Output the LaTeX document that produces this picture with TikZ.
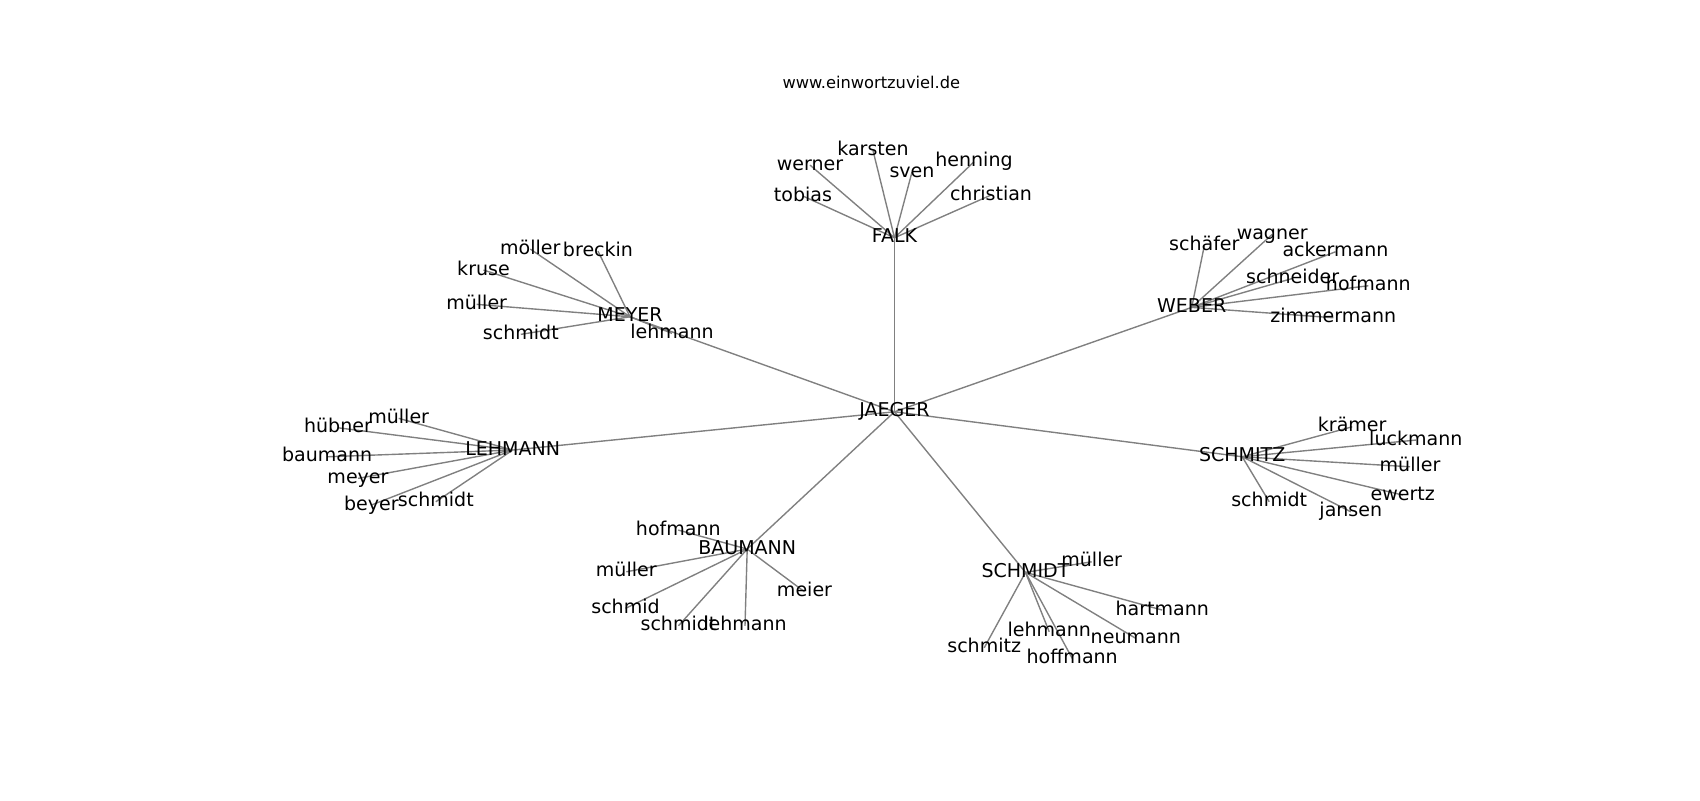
\documentclass[tikz,border=0pt]{standalone}
\usepackage{fontspec}
\setmainfont{DejaVu Sans}
\usetikzlibrary{backgrounds}

\tikzset{
  lbl/.style={font=\fontsize{13.7}{16}\selectfont, text height=10.4pt, text depth=3.3pt, inner sep=0pt, anchor=base},
  link/.style={draw=black!50, line width=1pt}
}

\begin{document}
\begin{tikzpicture}[x=0.72pt, y=-0.72pt]
        \useasboundingbox (0,0) rectangle (1700,800);
        \node[anchor=base, inner sep=0pt, font=\fontsize{11.7}{14}\selectfont] (title) at (871.3,88.3) {www.einwortzuviel.de};

        \node[lbl] (jaeger) at (894.5,416.7) {JAEGER};

        % FALK
        \node[lbl] (falk) at (894.5,242.7) {FALK};
        \node[lbl] (f1) at (873,155.5) {karsten};
        \node[lbl] (f2) at (810,170) {werner};
        \node[lbl] (f3) at (912,177) {sven};
        \node[lbl] (f4) at (974,166.7) {henning};
        \node[lbl] (f5) at (803,201) {tobias};
        \node[lbl] (f6) at (991,200) {christian};

        % MEYER
        \node[lbl] (meyer) at (630,321.7) {MEYER};
        \node[lbl] (m1) at (530.3,254) {möller};
        \node[lbl] (m2) at (598,256) {breckin};
        \node[lbl] (m3) at (483.5,275) {kruse};
        \node[lbl] (m4) at (476.7,309.3) {müller};
        \node[lbl] (m5) at (520.8,339.3) {schmidt};
        \node[lbl] (m6) at (672,338.3) {lehmann};

        % WEBER
        \node[lbl] (weber) at (1191.7,312.3) {WEBER};
        \node[lbl] (w1) at (1204.3,250.7) {schäfer};
        \node[lbl] (w2) at (1272.2,239.3) {wagner};
        \node[lbl] (w3) at (1335.5,256.7) {ackermann};
        \node[lbl] (w4) at (1292.7,283.3) {schneider};
        \node[lbl] (w5) at (1368.3,290.7) {hofmann};
        \node[lbl] (w6) at (1333.3,322.7) {zimmermann};

        % LEHMANN
        \node[lbl] (lehmann) at (512.7,455) {LEHMANN};
        \node[lbl] (l1) at (398.7,423.3) {müller};
        \node[lbl] (l2) at (338,432.7) {hübner};
        \node[lbl] (l3) at (327.2,461.7) {baumann};
        \node[lbl] (l4) at (358,483.3) {meyer};
        \node[lbl] (l5) at (371.3,510) {beyer};
        \node[lbl] (l6) at (435.8,506.7) {schmidt};

        % SCHMITZ
        \node[lbl] (schmitz) at (1242.2,461.7) {SCHMITZ};
        \node[lbl] (s1) at (1352.2,431.7) {krämer};
        \node[lbl] (s2) at (1415.8,445) {luckmann};
        \node[lbl] (s3) at (1410,471.7) {müller};
        \node[lbl] (s4) at (1402.8,500) {ewertz};
        \node[lbl] (s5) at (1269.2,506.7) {schmidt};
        \node[lbl] (s6) at (1350.8,516.7) {jansen};

        % BAUMANN
        \node[lbl] (baumann) at (747.2,554) {BAUMANN};
        \node[lbl] (b1) at (678.3,535) {hofmann};
        \node[lbl] (b2) at (626.3,576.7) {müller};
        \node[lbl] (b3) at (804.5,596.7) {meier};
        \node[lbl] (b4) at (625.5,613.3) {schmid};
        \node[lbl] (b5) at (678.5,630.7) {schmidt};
        \node[lbl] (b6) at (745,630.7) {lehmann};

        % SCHMIDT
        \node[lbl] (schmidt) at (1025.5,577.3) {SCHMIDT};
        \node[lbl] (d1) at (1091.7,566.7) {müller};
        \node[lbl] (d2) at (1162.2,615) {hartmann};
        \node[lbl] (d3) at (1049.2,636.7) {lehmann};
        \node[lbl] (d4) at (1135.8,643.3) {neumann};
        \node[lbl] (d5) at (984.2,652.7) {schmitz};
        \node[lbl] (d6) at (1072.2,663.3) {hoffmann};

        \begin{scope}[on background layer]
            \foreach \h in {falk,meyer,weber,lehmann,schmitz,baumann,schmidt}
                \draw[link] (jaeger.center) -- (\h.center);
            \foreach \i in {1,...,6} {
                \draw[link] (falk.center) -- (f\i.center);
                \draw[link] (meyer.center) -- (m\i.center);
                \draw[link] (weber.center) -- (w\i.center);
                \draw[link] (lehmann.center) -- (l\i.center);
                \draw[link] (schmitz.center) -- (s\i.center);
                \draw[link] (baumann.center) -- (b\i.center);
                \draw[link] (schmidt.center) -- (d\i.center);
            }
        \end{scope}
    \end{tikzpicture}
\end{document}
